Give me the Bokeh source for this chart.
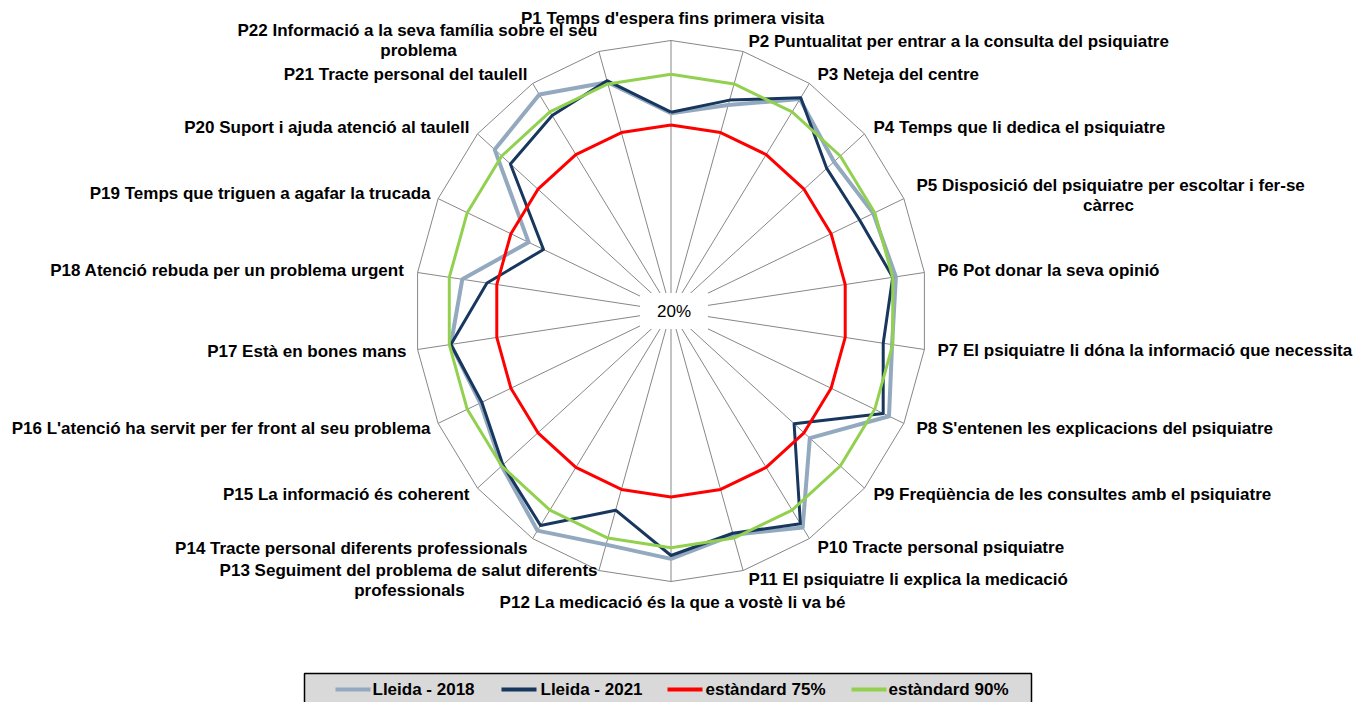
import numpy as np
from bokeh.plotting import figure
from bokeh.models import Range1d
from bokeh.embed import file_html
from bokeh.resources import INLINE
from bokeh.core.properties import value

# ---------------- data ----------------
categories = [
    "P1 Temps d'espera fins primera visita",
    "P2 Puntualitat per entrar a la consulta del psiquiatre",
    "P3 Neteja del centre",
    "P4 Temps que li dedica el psiquiatre",
    "P5 Disposició del psiquiatre per escoltar i fer-se càrrec",
    "P6 Pot donar la seva opinió",
    "P7 El psiquiatre li dóna la informació que necessita",
    "P8 S'entenen les explicacions del psiquiatre",
    "P9 Freqüència de les consultes amb el psiquiatre",
    "P10 Tracte personal psiquiatre",
    "P11 El psiquiatre li explica la medicació",
    "P12 La medicació és la que a vostè li va bé",
    "P13 Seguiment del problema de salut diferents professionals",
    "P14 Tracte personal diferents professionals",
    "P15 La informació és coherent",
    "P16 L'atenció ha servit per fer front al seu problema",
    "P17 Està en bones mans",
    "P18 Atenció rebuda per un problema urgent",
    "P19 Temps que triguen a agafar la trucada",
    "P20 Suport i ajuda atenció al taulell",
    "P21 Tracte personal del taulell",
    "P22 Informació a la seva família sobre el seu problema",
]
lleida_2018 = [78.5, 83.5, 94.5, 87.4, 89.5, 91.0, 89.8, 94.9, 77.4, 96.1, 89.0,
               93.3, 92.0, 97.2, 90.0, 85.5, 89.5, 85.9, 68.9, 92.9, 96.1, 90.5]
lleida_2021 = [78.8, 85.0, 95.0, 84.4, 84.8, 90.0, 87.0, 92.9, 70.9, 94.8, 88.5,
               92.3, 81.4, 95.4, 89.5, 85.0, 89.5, 78.1, 63.8, 86.4, 88.7, 91.0]
estandard_75 = [75, 75, 75, 75, 75, 75, 75, 75, 75, 75, 75,
                75, 75, 75, 75, 75, 75, 75, 75, 75, 75, 75]
estandard_90 = [90, 90, 90, 90, 90, 90, 90, 90, 90, 90, 90,
                90, 90, 90, 90, 90, 90, 90, 90, 90, 90, 90]
series_names = ["Lleida - 2018", "Lleida - 2021", "estàndard 75%", "estàndard 90%"]
series_values = [lleida_2018, lleida_2021, estandard_75, estandard_90]
series_colors = ["#93A9BF", "#17375E", "#FF0000", "#92D050"]
series_widths = [4, 3, 3, 3]
r_min, r_max = 20, 100
center_label = "20%"

# ---------------- layout ----------------
W, H = 1353, 702
OX, OY = 0, 0              # page offset of the figure
CX, CY = 670.5, 310.5      # pixel centre of the radar
RX, RY = 256.0, 270.5      # pixel radius (x, y)

def dx(px):
    return (px - CX) / RX

def dy(py):
    return (CY - py) / RY

p = figure(width=W, height=H, output_backend="svg", toolbar_location=None,
           x_range=Range1d(dx(OX), dx(OX + W)), y_range=Range1d(dy(OY + H), dy(OY)),
           min_border=0, outline_line_color=None, background_fill_color="white")
p.axis.visible = False
p.grid.visible = False

n = len(categories)
theta = np.arange(n) * 2 * np.pi / n

def to_xy(vals):
    f = (np.asarray(vals, dtype=float) - r_min) / (r_max - r_min)
    x = f * np.sin(theta)
    y = f * np.cos(theta)
    return list(x) + [x[0]], list(y) + [y[0]]

# grid: spokes and outer polygon
ox, oy = np.sin(theta), np.cos(theta)
p.segment(x0=np.zeros(n), y0=np.zeros(n), x1=ox, y1=oy, line_color="#878787", line_width=1)
p.line(list(ox) + [ox[0]], list(oy) + [oy[0]], line_color="#878787", line_width=1)

# centre label box
p.quad(left=dx(CX - 31), right=dx(CX + 37), top=dy(CY - 18), bottom=dy(CY + 18),
       fill_color="white", line_color=None)
p.text(x=[dx(CX + 3)], y=[dy(CY)], text=[center_label], text_align="center",
       text_baseline="middle", text_font=value("Liberation Sans"),
       text_font_size="17px", text_color="black")

# series
for vals, col, lw in zip(series_values, series_colors, series_widths):
    xs, ys = to_xy(vals)
    p.line(xs, ys, line_color=col, line_width=lw, line_join="round")

# category labels (pixel positions of text anchors)
label_layout = [
    (0, 672, 18, "center"), (1, 748, 41, "left"), (2, 817, 74, "left"),
    (3, 873, 127, "left"), (5, 937, 270, "left"), (6, 937, 350, "left"),
    (7, 916, 428, "left"), (8, 873, 494, "left"), (9, 817, 547, "left"),
    (10, 748, 579, "left"), (11, 672, 602, "center"), (13, 527, 548, "right"),
    (14, 469, 494, "right"), (15, 430, 428, "right"), (16, 406, 351, "right"),
    (17, 404, 270, "right"), (18, 430, 193, "right"), (19, 469, 127, "right"),
    (20, 527, 74, "right"),
]
two_line = [
    (4, "P5 Disposició del psiquiatre per escoltar i fer-se", "càrrec", 916, 185, "left", 1108, 205),
    (12, "P13 Seguiment del problema de salut diferents", "professionals", 597, 570, "right", 409, 590),
    (21, "P22 Informació a la seva família sobre el seu", "problema", 597, 30, "right", 418, 50),
]
lab_font = dict(text_font=value("Liberation Sans"), text_font_style="bold",
                text_font_size="17px", text_color="black", text_baseline="middle")
for idx, px_, py_, al in label_layout:
    p.text(x=[dx(px_)], y=[dy(py_)], text=[categories[idx]], text_align=al, **lab_font)
for idx, l1, l2, x1, y1, al, x2, y2 in two_line:
    p.text(x=[dx(x1)], y=[dy(y1)], text=[l1], text_align=al, **lab_font)
    p.text(x=[dx(x2)], y=[dy(y2)], text=[l2], text_align="center", **lab_font)

# legend box
LY = 689
p.quad(left=dx(304), right=dx(1031), top=dy(673), bottom=dy(730),
       fill_color="#D9D9D9", line_color="black", line_width=1.5)
sample_x = [335, 501, 667, 851]
text_x = [372, 540, 705, 888]
for name, col, sx, tx in zip(series_names, series_colors, sample_x, text_x):
    p.segment(x0=[dx(sx)], y0=[dy(LY)], x1=[dx(sx + 35)], y1=[dy(LY)],
              line_color=col, line_width=4)
    p.text(x=[dx(tx)], y=[dy(LY)], text=[name], text_align="left", **lab_font)

open("out.html", "w").write(file_html(p, INLINE))
